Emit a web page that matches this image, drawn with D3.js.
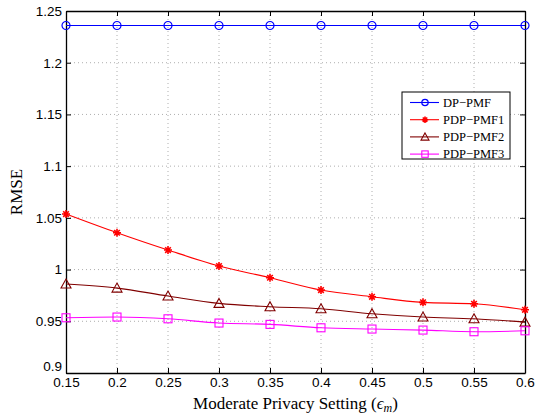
<!DOCTYPE html>
<html><head><meta charset="utf-8">
<script src="https://cdn.jsdelivr.net/npm/d3@7"></script>
<style>body{margin:0;background:#fff}</style>
</head><body>
<svg id="c" width="542" height="419"></svg>
<script>
const xValues = [0.15,0.2,0.25,0.3,0.35,0.4,0.45,0.5,0.55,0.6];
const dpPmf   = [1.236,1.236,1.236,1.236,1.236,1.236,1.236,1.236,1.236,1.236];
const pdpPmf1 = [1.0537,1.0356,1.0189,1.0034,0.9921,0.9802,0.9737,0.9683,0.9669,0.9611];
const pdpPmf2 = [0.986,0.9821,0.9744,0.9673,0.9641,0.9621,0.9573,0.9541,0.9524,0.9492];
const pdpPmf3 = [0.9534,0.9541,0.9524,0.9483,0.947,0.9437,0.9425,0.9415,0.9399,0.9408];
const xTicks = [0.15,0.2,0.25,0.3,0.35,0.4,0.45,0.5,0.55,0.6];
const yTicks = [0.9,0.95,1,1.05,1.1,1.15,1.2,1.25];
const seriesNames = ["DP\u2212PMF","PDP\u2212PMF1","PDP\u2212PMF2","PDP\u2212PMF3"];

const series = [
  {name: seriesNames[0], values: dpPmf, color: "#0000ff", marker: "circle"},
  {name: seriesNames[1], values: pdpPmf1, color: "#ff0000", marker: "star"},
  {name: seriesNames[2], values: pdpPmf2, color: "#800000", marker: "triangle"},
  {name: seriesNames[3], values: pdpPmf3, color: "#ff00ff", marker: "square"}
];

const svg = d3.select("#c");
const L = 66, R = 525, T = 11, B = 373;
const x = d3.scaleLinear().domain([0.15,0.6]).range([L,R]);
const y = d3.scaleLinear().domain([0.9,1.25]).range([B,T]);

// grid
const g = svg.append("g");
g.selectAll(".gx").data(xTicks.slice(1,-1)).enter().append("line")
  .attr("x1",d=>x(d)).attr("x2",d=>x(d)).attr("y1",T).attr("y2",B)
  .attr("stroke","#999").attr("stroke-width",0.8).attr("stroke-dasharray","1,3");
g.selectAll(".gy").data(yTicks.slice(1,-1)).enter().append("line")
  .attr("y1",d=>y(d)).attr("y2",d=>y(d)).attr("x1",L).attr("x2",R)
  .attr("stroke","#999").attr("stroke-width",0.8).attr("stroke-dasharray","1,3");

// axes
const fontTick = "Liberation Sans, Arial, sans-serif";
const xa = svg.append("g").attr("transform",`translate(0,${B})`)
  .call(d3.axisBottom(x).tickValues(xTicks).tickSizeInner(-5).tickSizeOuter(0).tickPadding(7).tickFormat(d=>d3.format("")(d)));
const xt = svg.append("g").attr("transform",`translate(0,${T})`)
  .call(d3.axisTop(x).tickValues(xTicks).tickSizeInner(-5).tickSizeOuter(0).tickFormat(""));
const ya = svg.append("g").attr("transform",`translate(${L},0)`)
  .call(d3.axisLeft(y).tickValues(yTicks).tickSizeInner(-5).tickSizeOuter(0).tickPadding(4).tickFormat(d=>d3.format("")(+d.toFixed(2))));
const yr = svg.append("g").attr("transform",`translate(${R},0)`)
  .call(d3.axisRight(y).tickValues(yTicks).tickSizeInner(-5).tickSizeOuter(0).tickFormat(""));
[xa,xt,ya,yr].forEach(a=>{
  a.select(".domain").attr("stroke","#000").attr("stroke-width",1.3);
  a.selectAll(".tick line").attr("stroke","#000").attr("stroke-width",1);
  a.selectAll("text").attr("font-family",fontTick).attr("font-size",13.5).attr("fill","#000");
});
xa.selectAll("text").attr("dy","0.5em");
ya.selectAll(".tick").filter(d=>d===0.9).select("text").attr("dy","-0.15em");

// lines
const line = d3.line().x((d,i)=>x(xValues[i])).y(d=>y(d)).curve(d3.curveMonotoneX);
function drawMarker(sel, type, color, size){
  if(type==="circle"){
    sel.append("circle").attr("r",size).attr("fill","none").attr("stroke",color).attr("stroke-width",1.2);
  } else if(type==="square"){
    sel.append("rect").attr("x",-size).attr("y",-size).attr("width",2*size).attr("height",2*size)
      .attr("fill","none").attr("stroke",color).attr("stroke-width",1.1);
  } else if(type==="triangle"){
    const s=size*1.25;
    sel.append("path").attr("d",`M0,${-s}L${s},${s*0.8}L${-s},${s*0.8}Z`)
      .attr("fill","none").attr("stroke",color).attr("stroke-width",1.1);
  } else if(type==="star"){
    const s=size;
    sel.append("path").attr("d",`M${-s},0L${s},0M0,${-s}L0,${s}M${-s*0.7},${-s*0.7}L${s*0.7},${s*0.7}M${-s*0.7},${s*0.7}L${s*0.7},${-s*0.7}`)
      .attr("stroke",color).attr("stroke-width",1.6);
  }
}
series.forEach(s=>{
  svg.append("path").datum(s.values).attr("d",line).attr("fill","none")
    .attr("stroke",s.color).attr("stroke-width",1.1);
  svg.selectAll(null).data(s.values).enter().append("g")
    .attr("transform",(d,i)=>`translate(${x(xValues[i])},${y(d)})`)
    .each(function(){ drawMarker(d3.select(this), s.marker, s.color, 4); });
});

// legend
const lg = svg.append("g").attr("transform","translate(402,92)");
lg.append("rect").attr("width",108).attr("height",67).attr("fill","#fff").attr("stroke","#000").attr("stroke-width",1);
series.forEach((s,i)=>{
  const yy = 10.5 + i*17.2;
  lg.append("line").attr("x1",8).attr("x2",37).attr("y1",yy).attr("y2",yy).attr("stroke",s.color).attr("stroke-width",1.1);
  const m = lg.append("g").attr("transform",`translate(23,${yy})`);
  drawMarker(m, s.marker, s.color, 3.2);
  lg.append("text").attr("x",41).attr("y",yy).attr("dy","0.35em")
    .attr("font-family","Liberation Serif, Times New Roman, serif").attr("font-size",12.5).text(s.name);
});

// labels
svg.append("text").attr("x",(L+R)/2).attr("y",409).attr("text-anchor","middle")
  .attr("font-family","Liberation Serif, Times New Roman, serif").attr("font-size",17)
  .html('Moderate Privacy Setting (<tspan font-style="italic">ϵ</tspan><tspan font-style="italic" font-size="12" dy="3">m</tspan><tspan dy="-3">)</tspan>');
svg.append("text").attr("transform",`translate(22,${(T+B)/2}) rotate(-90)`).attr("text-anchor","middle")
  .attr("font-family","Liberation Serif, Times New Roman, serif").attr("font-size",17).text("RMSE");
</script>
</body></html>
